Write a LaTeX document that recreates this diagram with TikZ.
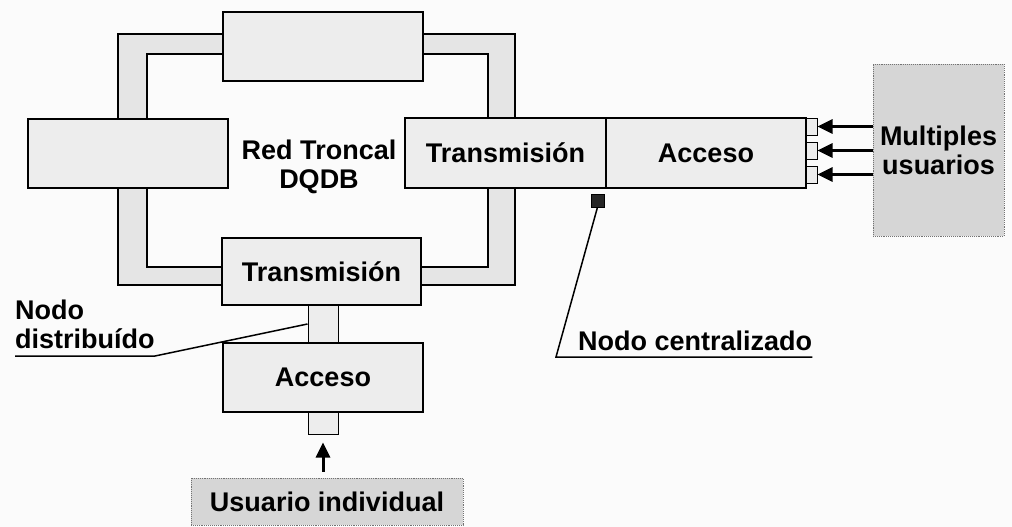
\documentclass[tikz,border=0pt]{standalone}
\usepackage{fontspec}
\setsansfont{Liberation Sans}
\usetikzlibrary{arrows.meta}
\definecolor{fondo}{gray}{0.985}
\definecolor{cajagris}{gray}{0.93}
\definecolor{anillogris}{gray}{0.90}
\definecolor{usugris}{gray}{0.84}

\begin{document}
\begin{tikzpicture}[x=1pt,y=-1pt,font=\sffamily\bfseries\fontsize{27}{29}\selectfont,
  caja/.style={draw,line width=1.3pt,fill=cajagris,inner sep=0pt},
  enlace/.style={draw,line width=1pt,fill=cajagris,inner sep=0pt},
  usuario/.style={draw=black!55,densely dotted,line width=0.9pt,fill=usugris,inner sep=0pt},
  flecha/.style={line width=3pt,-{Triangle[length=15pt,width=14pt]}},
  guia/.style={line width=1.5pt}]

  \useasboundingbox (0,0) rectangle (1012,527);
  \fill[fondo] (0,0) rectangle (1012,527);

  % ring: backbone DQDB
  \fill[anillogris,even odd rule] (118,34) rectangle (515,285) (147,54) rectangle (488,267);
  \draw[line width=1.2pt] (118,34) rectangle (515,285) (147,54) rectangle (488,267);
  \node[align=center] (red) at (319,167) {Red Troncal\\DQDB};

  % nodes on the ring
  \node[caja,minimum width=200pt,minimum height=69pt] (arriba) at (323,46.5) {};
  \node[caja,minimum width=200pt,minimum height=69pt] (izq) at (128,153.5) {};

  % centralized node
  \node[caja,minimum width=201pt,minimum height=70pt] (trans) at (505.5,153) {Transmisión};
  \node[caja,minimum width=200pt,minimum height=70pt] (acc) at (706,153) {Acceso};
  \node[enlace,minimum width=11pt,minimum height=17pt] (p1) at (811.5,126.5) {};
  \node[enlace,minimum width=11pt,minimum height=17pt] (p2) at (811.5,150.5) {};
  \node[enlace,minimum width=11pt,minimum height=17pt] (p3) at (811.5,174.5) {};
  \node[usuario,minimum width=131pt,minimum height=172pt,align=center] (multi) at (938.5,150) {Multiples\\usuarios};
  \draw[flecha] (multi.west |- p1) -- (p1.east);
  \draw[flecha] (multi.west |- p2) -- (p2.east);
  \draw[flecha] (multi.west |- p3) -- (p3.east);
  \node[draw,fill=black!85,minimum size=13pt,inner sep=0pt] (cen) at (597.5,200.5) {};
  \node[anchor=base west,inner sep=0pt] (lblcen) at (578,350) {Nodo centralizado};
  \coordinate (codo1) at (556,357);
  \draw[guia] (cen.south) -- (codo1) -- (codo1 -| lblcen.east);

  % distributed node
  \node[caja,minimum width=199pt,minimum height=67pt] (transd) at (321.5,271.5) {Transmisión};
  \node[enlace,minimum width=30pt,minimum height=38pt] (enl1) at (323,324) {};
  \node[caja,minimum width=200pt,minimum height=69pt] (accd) at (323,377.5) {Acceso};
  \node[enlace,minimum width=30pt,minimum height=22pt] (enl2) at (323,423) {};
  \node[usuario,minimum width=272pt,minimum height=47pt] (usu) at (327,501.5) {Usuario individual};
  \draw[flecha,shorten <=6pt,shorten >=8pt] (enl2.south |- usu.north) -- (enl2.south);
  \node[anchor=south west,align=left,inner sep=0pt] (lbldis) at (15,349) {Nodo\\distribuído};
  \coordinate (codo2) at (155,356);
  \draw[guia] (codo2 -| lbldis.west) -- (codo2) -- (enl1.west);
\end{tikzpicture}
\end{document}
